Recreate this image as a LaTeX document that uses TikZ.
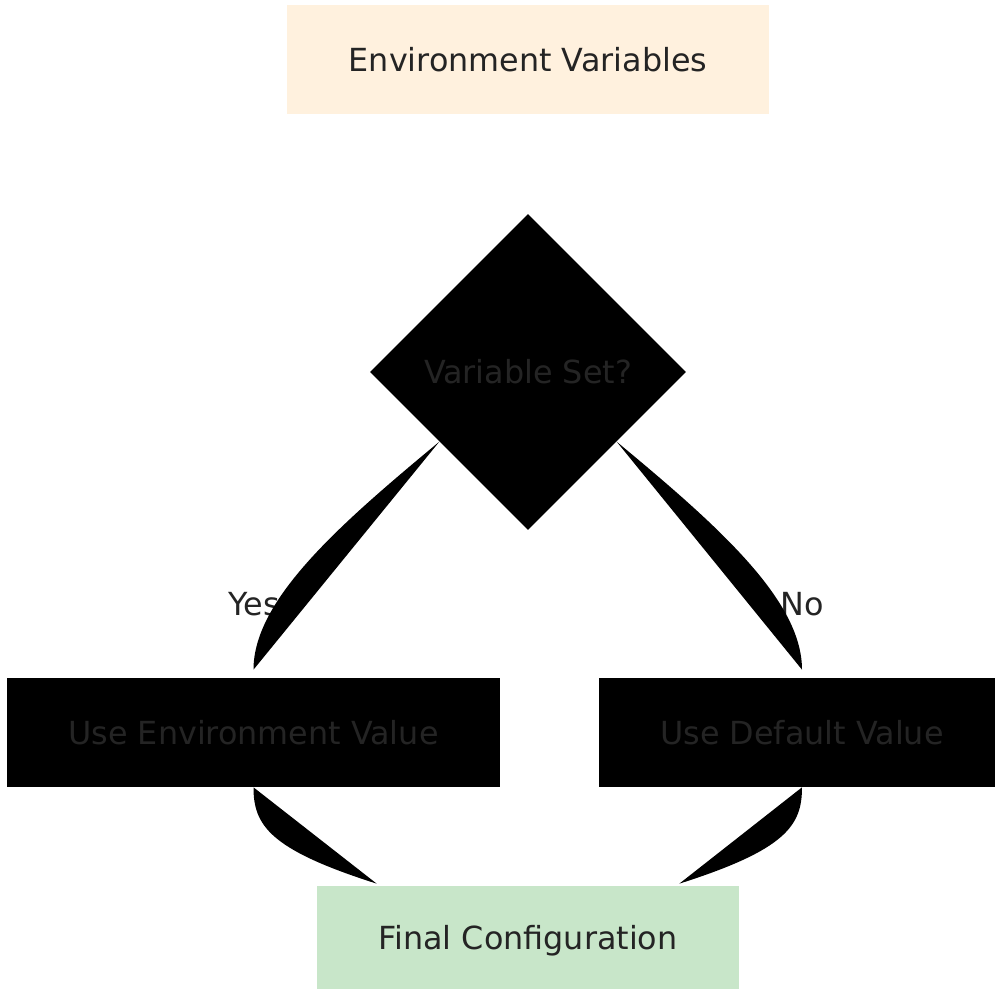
\documentclass[tikz,border=0pt]{standalone}
\usepackage{fontspec}
\setmainfont{DejaVu Sans}
\usetikzlibrary{shapes.geometric,calc}
\definecolor{txtgray}{HTML}{242424}
\definecolor{envfill}{HTML}{FFF1DE}
\definecolor{finfill}{HTML}{C8E6C9}
\tikzset{
  box/.style={rectangle,inner sep=0pt,minimum height=2.18cm,text=txtgray,
    font=\fontsize{18.1}{21}\selectfont},
  blackbox/.style={box,fill=black},
  decision/.style={diamond,aspect=1,inner sep=0pt,minimum width=6.32cm,
    minimum height=6.32cm,fill=black,text=txtgray,font=\fontsize{18.1}{21}\selectfont},
  answer/.style={text=txtgray,inner sep=0pt,font=\fontsize{18.1}{21}\selectfont},
  link/.style={fill=black,draw=none}
}
\begin{document}
\begin{tikzpicture}[x=0.02cm,y=-0.02cm]
  \useasboundingbox (0,0) rectangle (995,989);

  \node[box,fill=envfill,minimum width=9.64cm] (envvars) at (528,59.5) {Environment Variables};
  \node[decision] (isset) at (528,372) {Variable Set?};
  \node[blackbox,minimum width=9.86cm] (useenv) at (253.5,732.5) {Use Environment Value};
  \node[blackbox,minimum width=8.12cm] (usedef) at (802,732.5) {Use Default Value};
  \node[box,fill=finfill,minimum width=8.44cm] (final) at (528,940.5) {Final Configuration};

  % labels sit under the links
  \node[answer] (yes) at (254,604) {Yes};
  \node[answer] (no) at (802,604) {No};

  \fill[link] ($(isset.west)!0.44!(isset.south)$) .. controls +(-100,83) and +(0,-70) .. ([yshift=0.16cm]useenv.north) -- cycle;
  \fill[link] ($(isset.east)!0.44!(isset.south)$) .. controls +(100,83) and +(0,-70) .. ([yshift=0.16cm]usedef.north) -- cycle;
  \fill[link] (useenv.south) .. controls +(0,38) and +(-107,-34) .. ([xshift=1.2cm,yshift=0.04cm]final.north west) -- cycle;
  \fill[link] (usedef.south) .. controls +(0,38) and +(107,-34) .. ([xshift=-1.2cm,yshift=0.04cm]final.north east) -- cycle;
\end{tikzpicture}
\end{document}
